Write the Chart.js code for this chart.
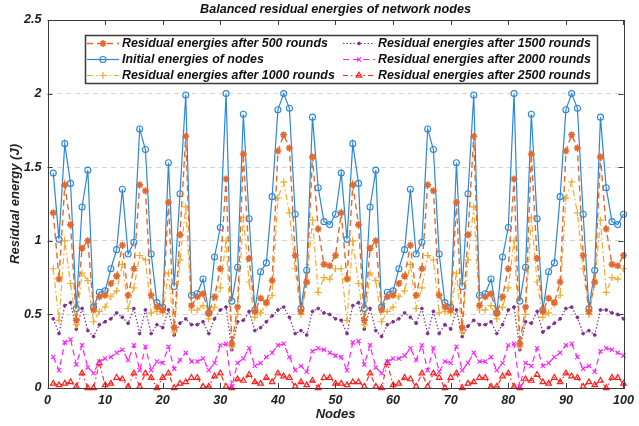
<!DOCTYPE html>
<html>
<head>
<meta charset="utf-8">
<script src="https://cdn.jsdelivr.net/npm/chart.js@4.4.1/dist/chart.umd.min.js"></script>
<style>
  html, body { margin: 0; padding: 0; background: #ffffff; }
  #wrap { width: 639px; height: 426px; position: relative; }
</style>
</head>
<body>
<div id="wrap"><canvas id="c" width="639" height="426"></canvas></div>
<script>
// ---------- data ----------
const titleText = 'Balanced residual energies of network nodes';
const xTitle = 'Nodes';
const yTitle = 'Residual energy (J)';
const xTickValues = [0, 10, 20, 30, 40, 50, 60, 70, 80, 90, 100];
const yTickValues = [0, 0.5, 1, 1.5, 2, 2.5];

const seriesNames = [
  'Residual energies after 500 rounds',
  'Initial energies of nodes',
  'Residual energies after 1000 rounds',
  'Residual energies after 1500 rounds',
  'Residual energies after 2000 rounds',
  'Residual energies after 2500 rounds'
];

const nodes = Array.from({length: 100}, (_, i) => i + 1);

const initialEnergy = [
  1.46, 1.01, 1.66, 1.39, 0.54, 1.23, 1.48, 0.55, 0.65, 0.66,
  0.81, 0.94, 1.35, 0.91, 0.99, 1.76, 1.62, 0.91, 0.58, 0.55,
  1.53, 0.69, 1.32, 1.99, 0.63, 0.64, 0.74, 0.51, 0.89, 1.09,
  2.00, 0.59, 0.82, 1.86, 1.15, 0.53, 0.79, 0.85, 1.30, 1.89,
  2.00, 1.90, 1.18, 0.54, 0.80, 1.84, 1.36, 1.13, 1.11, 1.18,
  1.46, 1.01, 1.66, 1.39, 0.54, 1.23, 1.48, 0.55, 0.65, 0.66,
  0.81, 0.94, 1.35, 0.91, 0.99, 1.76, 1.62, 0.91, 0.58, 0.55,
  1.53, 0.69, 1.32, 1.99, 0.63, 0.64, 0.74, 0.51, 0.89, 1.09,
  2.00, 0.59, 0.82, 1.86, 1.15, 0.53, 0.79, 0.85, 1.30, 1.89,
  2.00, 1.90, 1.18, 0.54, 0.80, 1.84, 1.36, 1.13, 1.11, 1.18
];

const after500 = [
  1.19, 0.74, 1.38, 1.11, 0.46, 0.95, 1.00, 0.53, 0.62, 0.63,
  0.71, 0.76, 0.97, 0.63, 0.81, 1.38, 1.34, 0.63, 0.55, 0.53,
  1.26, 0.41, 1.04, 1.71, 0.56, 0.62, 0.64, 0.51, 0.62, 0.81,
  1.42, 0.30, 0.55, 1.59, 0.88, 0.52, 0.61, 0.58, 0.73, 1.61,
  1.72, 1.63, 0.90, 0.52, 0.72, 1.57, 1.08, 0.84, 0.83, 0.90,
  1.19, 0.74, 1.38, 1.11, 0.46, 0.95, 1.00, 0.53, 0.62, 0.63,
  0.71, 0.76, 0.97, 0.63, 0.81, 1.38, 1.34, 0.63, 0.55, 0.53,
  1.26, 0.41, 1.04, 1.71, 0.56, 0.62, 0.64, 0.51, 0.62, 0.81,
  1.42, 0.30, 0.55, 1.59, 0.88, 0.52, 0.61, 0.58, 0.72, 1.61,
  1.72, 1.63, 0.90, 0.52, 0.72, 1.57, 1.08, 0.84, 0.83, 0.90
];

const after1000 = [
  0.81, 0.46, 1.00, 0.71, 0.43, 0.78, 0.73, 0.45, 0.52, 0.55,
  0.62, 0.66, 0.84, 0.54, 0.68, 0.90, 0.87, 0.51, 0.52, 0.51,
  0.78, 0.38, 0.87, 1.23, 0.53, 0.53, 0.56, 0.47, 0.55, 0.68,
  1.00, 0.28, 0.50, 1.16, 0.72, 0.48, 0.51, 0.57, 0.63, 1.29,
  1.40, 1.19, 0.81, 0.50, 0.71, 1.14, 0.65, 0.75, 0.74, 0.81,
  0.81, 0.46, 1.00, 0.71, 0.43, 0.78, 0.73, 0.45, 0.52, 0.55,
  0.62, 0.66, 0.84, 0.54, 0.68, 0.90, 0.87, 0.51, 0.52, 0.51,
  0.78, 0.38, 0.87, 1.23, 0.53, 0.53, 0.56, 0.47, 0.55, 0.68,
  1.00, 0.28, 0.50, 1.16, 0.72, 0.48, 0.51, 0.57, 0.63, 1.29,
  1.40, 1.19, 0.81, 0.50, 0.71, 1.14, 0.65, 0.75, 0.74, 0.81
];

const after1500 = [
  0.47, 0.37, 0.56, 0.58, 0.40, 0.54, 0.39, 0.35, 0.43, 0.45,
  0.47, 0.51, 0.48, 0.44, 0.54, 0.37, 0.53, 0.37, 0.43, 0.41,
  0.53, 0.36, 0.44, 0.47, 0.43, 0.43, 0.45, 0.37, 0.47, 0.53,
  0.55, 0.26, 0.45, 0.46, 0.52, 0.39, 0.41, 0.45, 0.49, 0.53,
  0.55, 0.48, 0.37, 0.39, 0.36, 0.52, 0.54, 0.51, 0.50, 0.47,
  0.46, 0.37, 0.56, 0.58, 0.40, 0.54, 0.39, 0.35, 0.43, 0.45,
  0.47, 0.51, 0.48, 0.44, 0.54, 0.37, 0.52, 0.37, 0.43, 0.40,
  0.53, 0.35, 0.42, 0.46, 0.43, 0.43, 0.45, 0.37, 0.43, 0.53,
  0.55, 0.26, 0.45, 0.44, 0.52, 0.38, 0.41, 0.44, 0.47, 0.54,
  0.55, 0.48, 0.37, 0.39, 0.36, 0.53, 0.53, 0.51, 0.50, 0.47
];

const after2000 = [
  0.21, 0.12, 0.31, 0.33, 0.16, 0.29, 0.14, 0.10, 0.18, 0.20,
  0.21, 0.24, 0.26, 0.19, 0.29, 0.12, 0.28, 0.12, 0.18, 0.17,
  0.28, 0.13, 0.19, 0.24, 0.18, 0.18, 0.20, 0.12, 0.17, 0.29,
  0.30, 0.01, 0.17, 0.20, 0.27, 0.15, 0.17, 0.21, 0.24, 0.29,
  0.30, 0.21, 0.12, 0.15, 0.11, 0.25, 0.27, 0.26, 0.24, 0.22,
  0.21, 0.12, 0.31, 0.32, 0.16, 0.29, 0.14, 0.10, 0.18, 0.20,
  0.20, 0.22, 0.27, 0.19, 0.29, 0.12, 0.27, 0.11, 0.18, 0.17,
  0.28, 0.12, 0.17, 0.24, 0.18, 0.18, 0.21, 0.12, 0.17, 0.29,
  0.30, 0.01, 0.17, 0.15, 0.27, 0.15, 0.17, 0.21, 0.24, 0.29,
  0.30, 0.21, 0.13, 0.15, 0.11, 0.25, 0.27, 0.26, 0.24, 0.22
];

const after2500 = [
  0.03, 0.02, 0.03, 0.04, 0.01, 0.10, 0.00, 0.00, 0.17, 0.02,
  0.03, 0.07, 0.06, 0.01, 0.10, 0.01, 0.10, 0.07, 0.00, 0.07,
  0.10, 0.00, 0.03, 0.04, 0.07, 0.07, 0.01, 0.01, 0.08, 0.10,
  0.01, 0.00, 0.06, 0.05, 0.09, 0.04, 0.03, 0.07, 0.04, 0.10,
  0.08, 0.07, 0.01, 0.04, 0.02, 0.05, 0.00, 0.07, 0.07, 0.03,
  0.03, 0.02, 0.04, 0.04, 0.01, 0.10, 0.01, 0.00, 0.17, 0.02,
  0.03, 0.07, 0.06, 0.01, 0.10, 0.01, 0.10, 0.07, 0.00, 0.07,
  0.10, 0.00, 0.03, 0.04, 0.07, 0.07, 0.01, 0.01, 0.08, 0.10,
  0.01, 0.00, 0.06, 0.05, 0.09, 0.04, 0.03, 0.07, 0.04, 0.10,
  0.08, 0.07, 0.01, 0.04, 0.02, 0.05, 0.00, 0.07, 0.07, 0.03
];

// ---------- styles ----------
const FONT = "'Liberation Sans', Arial, Helvetica, sans-serif";
const styles = [
  {color: '#e26a2e', dash: [6, 4], point: 'star', radius: 3.5, pw: 1.6, fill: 'rgba(0,0,0,0)', lw: 1.4},
  {color: '#2b88d8', dash: [], point: 'circle', radius: 3, pw: 1.1, fill: 'rgba(0,0,0,0)', lw: 1.2},
  {color: '#f0ac28', dash: [6, 3, 1.5, 3], point: 'cross', radius: 3.5, pw: 1.2, fill: 'rgba(0,0,0,0)', lw: 1.2},
  {color: '#7e2f8e', dash: [1.5, 2], point: 'circle', radius: 1.4, pw: 1, fill: '#7e2f8e', lw: 1.2},
  {color: '#ff1eff', dash: [6, 4], point: 'crossRot', radius: 3, pw: 1.1, fill: 'rgba(0,0,0,0)', lw: 1.2},
  {color: '#ff2020', dash: [5, 3, 1.5, 3], point: 'triangle', radius: 3.2, pw: 1.2, fill: 'rgba(0,0,0,0)', lw: 1.1}
];
const seriesValues = [after500, initialEnergy, after1000, after1500, after2000, after2500];

const datasets = seriesValues.map((vals, i) => ({
  label: seriesNames[i],
  data: nodes.map((n, k) => ({x: n, y: vals[k]})),
  borderColor: styles[i].color,
  backgroundColor: styles[i].fill,
  borderWidth: styles[i].lw,
  borderDash: styles[i].dash,
  pointStyle: styles[i].point,
  pointRadius: styles[i].radius,
  pointBorderWidth: styles[i].pw,
  pointBorderColor: styles[i].color,
  pointBackgroundColor: styles[i].fill,
  tension: 0,
  clip: 8
}));

// ---------- frame, inward ticks, title and legend ----------
const framePlugin = {
  id: 'framePlugin',
  afterDatasetsDraw(chart) {
    const {ctx, chartArea: a, scales} = chart;
    const xs = scales.x, ys = scales.y;
    ctx.save();
    ctx.setLineDash([]);
    ctx.strokeStyle = '#3c3c3c';
    ctx.lineWidth = 1;
    ctx.beginPath();
    xTickValues.forEach(v => {
      const px = Math.round(xs.getPixelForValue(v)) + 0.5;
      ctx.moveTo(px, a.bottom); ctx.lineTo(px, a.bottom - 5);
      ctx.moveTo(px, a.top); ctx.lineTo(px, a.top + 5);
    });
    yTickValues.forEach(v => {
      const py = Math.round(ys.getPixelForValue(v)) + 0.5;
      ctx.moveTo(a.left, py); ctx.lineTo(a.left + 5, py);
      ctx.moveTo(a.right, py); ctx.lineTo(a.right - 5, py);
    });
    ctx.stroke();
    ctx.strokeRect(Math.round(a.left) + 0.5, Math.round(a.top) + 0.5,
                   Math.round(a.right - a.left), Math.round(a.bottom - a.top));

    // title centred over the plot area
    ctx.fillStyle = '#111111';
    ctx.font = "italic bold 12.6px " + FONT;
    ctx.textAlign = 'center';
    ctx.textBaseline = 'middle';
    ctx.fillText(titleText, (a.left + a.right) / 2, 10);

    // legend box
    const L = {x: 85, y: 35, w: 512, h: 48};
    ctx.fillStyle = '#ffffff';
    ctx.fillRect(L.x, L.y, L.w, L.h);
    ctx.strokeStyle = '#3a3a3a';
    ctx.lineWidth = 1.5;
    ctx.strokeRect(L.x + 0.5, L.y + 0.5, L.w, L.h);

    const cols = [{x0: 87, x1: 119, tx: 122}, {x0: 343, x1: 375, tx: 378}];
    const rows = [43.5, 59.5, 75.5];
    const order = [[0, 1, 2], [3, 4, 5]];
    ctx.font = "italic bold 12.4px " + FONT;
    ctx.textBaseline = 'middle';
    ctx.textAlign = 'left';
    order.forEach((col, ci) => {
      col.forEach((di, ri) => {
        const s = styles[di];
        const y = rows[ri];
        const c = cols[ci];
        ctx.save();
        ctx.strokeStyle = s.color;
        ctx.lineWidth = s.lw;
        ctx.setLineDash(s.dash);
        ctx.beginPath();
        ctx.moveTo(c.x0, y); ctx.lineTo(c.x1, y);
        ctx.stroke();
        ctx.setLineDash([]);
        ctx.fillStyle = s.fill;
        ctx.strokeStyle = s.color;
        ctx.lineWidth = s.pw;
        Chart.helpers.drawPoint(ctx, {pointStyle: s.point, radius: s.radius, borderWidth: s.pw, rotation: 0}, (c.x0 + c.x1) / 2, y);
        ctx.restore();
        ctx.fillStyle = '#111111';
        ctx.fillText(seriesNames[di], c.tx, y + 0.5);
      });
    });
    ctx.restore();
  }
};

new Chart(document.getElementById('c'), {
  type: 'line',
  data: {datasets},
  plugins: [framePlugin],
  options: {
    responsive: false,
    animation: false,
    events: [],
    layout: {padding: {left: 0, right: 11, top: 20, bottom: 0}},
    plugins: {
      legend: {display: false},
      tooltip: {enabled: false},
      title: {display: false}
    },
    scales: {
      x: {
        type: 'linear',
        min: 0, max: 100,
        afterFit(scale) { scale.height = 38; },
        afterBuildTicks(scale) { scale.ticks = xTickValues.map(v => ({value: v})); },
        grid: {display: false, drawTicks: false},
        border: {display: false},
        ticks: {
          padding: 5,
          color: '#222222',
          maxRotation: 0,
          font: {family: FONT, size: 12.6, weight: 'bold', style: 'italic'}
        },
        title: {
          display: true, text: xTitle, color: '#222222',
          font: {family: FONT, size: 13, weight: 'bold', style: 'italic', lineHeight: 1.2},
          padding: {top: 0, bottom: 4}
        }
      },
      y: {
        type: 'linear',
        min: 0, max: 2.5,
        afterFit(scale) { scale.width = 47.5; },
        afterBuildTicks(scale) { scale.ticks = yTickValues.map(v => ({value: v})); },
        grid: {
          drawTicks: false,
          lineWidth: 1,
          color: (ctx) => (ctx.tick && (ctx.tick.value === 0 || ctx.tick.value === 2.5)) ? 'rgba(0,0,0,0)' : '#d4d4d4'
        },
        border: {display: false, dash: [5, 4]},
        ticks: {
          padding: 6,
          color: '#222222',
          font: {family: FONT, size: 12.6, weight: 'bold', style: 'italic'},
          callback: (v) => String(v)
        },
        title: {
          display: true, text: yTitle, color: '#222222',
          font: {family: FONT, size: 13, weight: 'bold', style: 'italic', lineHeight: 1.2},
          padding: {top: 8, bottom: 0}
        }
      }
    }
  }
});
</script>
</body>
</html>
